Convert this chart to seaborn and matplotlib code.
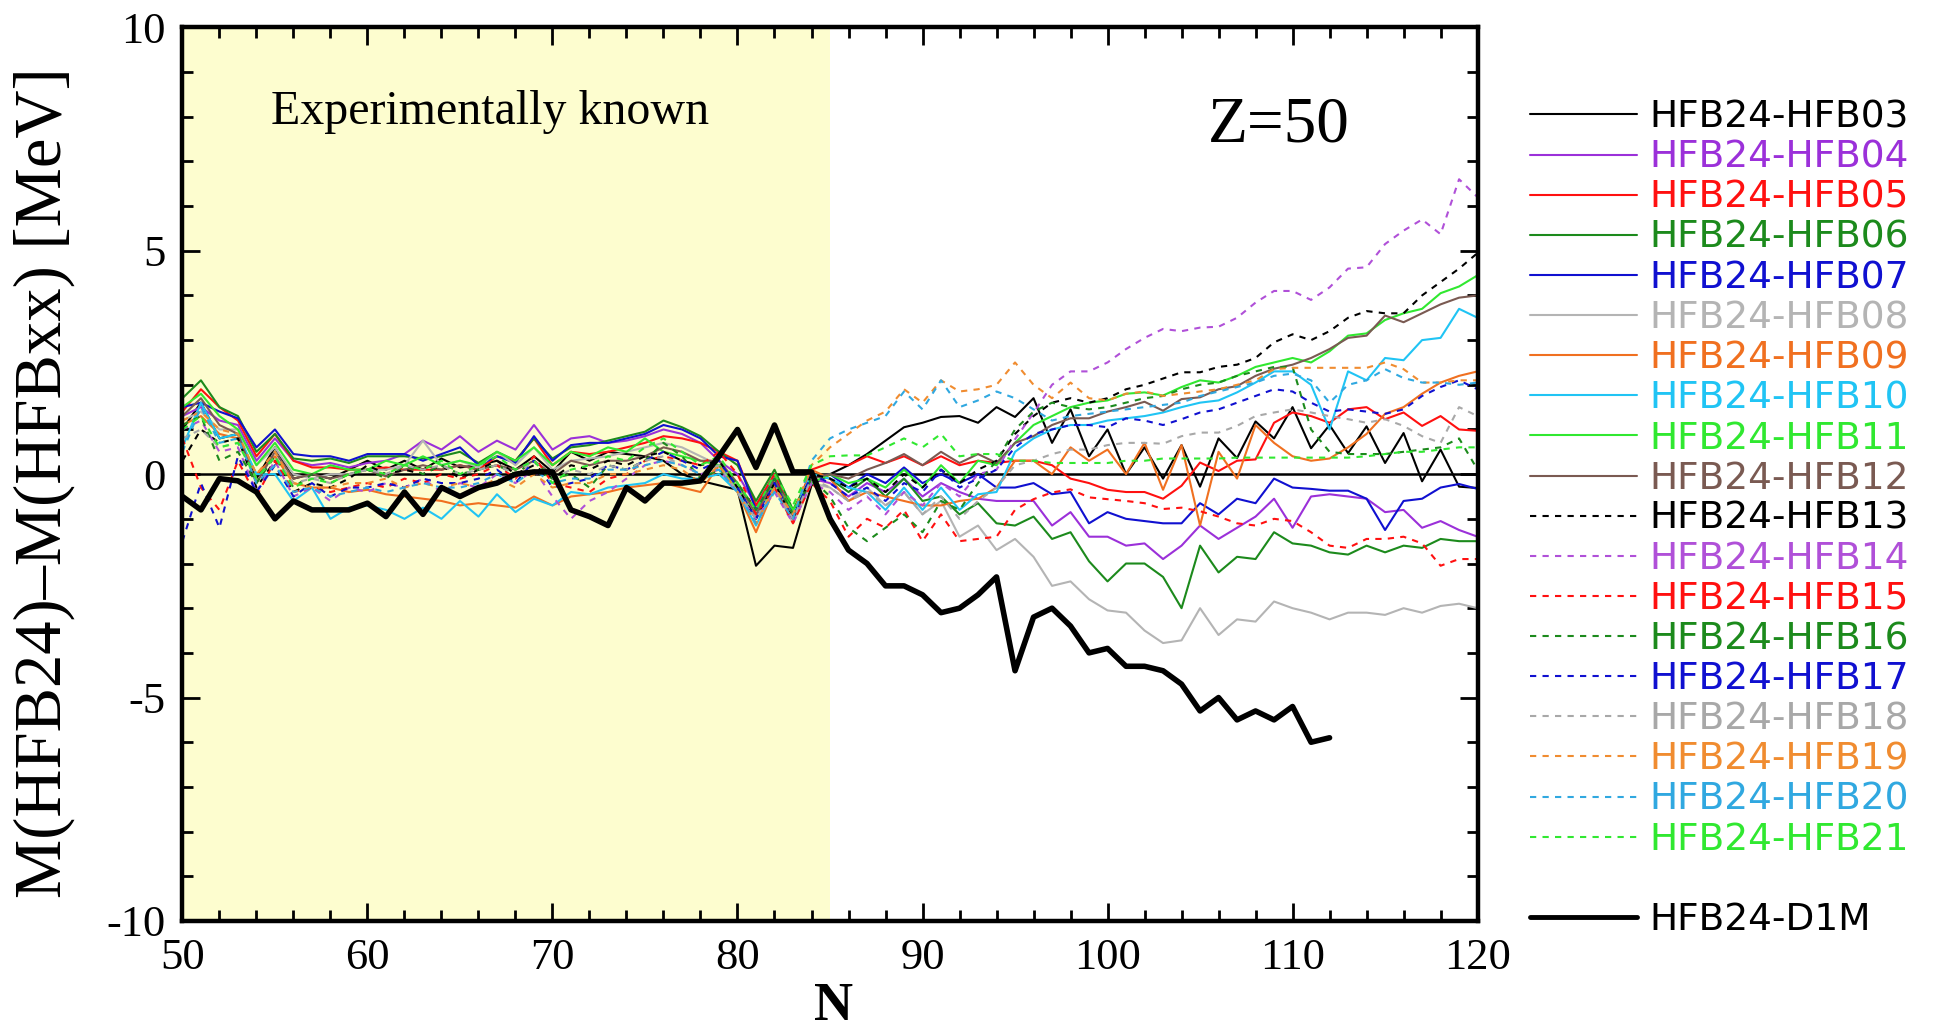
import matplotlib
matplotlib.use("Agg")
import matplotlib.pyplot as plt
import seaborn as sns
import pandas as pd
from matplotlib.lines import Line2D
from matplotlib.ticker import MultipleLocator

# ---------------- data ----------------
N = list(range(50, 121))
N_D1M = list(range(50, 113))

hfb03 = [1.0, 1.6, 0.8, 0.9, -0.1, 0.6, -0.1, 0.0, -0.1, 0.1, 0.3, 0.1, 0.3, 0.1, 0.35, 0.15, 0.2, 0.3, 0.1, 0.4,
         0.05, 0.5, 0.3, 0.5, 0.45, 0.4, 0.3, 0.0, -0.15, -0.25, -0.35, -2.05, -1.6, -1.65, -0.25] + \
        [0.0, 0.2, 0.45, 0.75, 1.05, 1.15, 1.28, 1.3, 1.15, 1.5, 1.28, 1.7, 0.7, 1.45, 0.4, 1.0, 0.0, 0.6,
         -0.1, 0.65, -0.28, 0.8, 0.36, 1.18, 0.8, 1.5, 0.58, 1.1, 0.47, 1.07, 0.25, 0.92, -0.16, 0.55, -0.28, -0.31]
hfb04 = [1.3, 1.5, 1.2, 1.1, 0.3, 0.8, 0.3, 0.2, 0.25, 0.15, 0.25, 0.3, 0.45, 0.75, 0.55, 0.85, 0.5, 0.75, 0.55, 1.1,
         0.55, 0.8, 0.85, 0.7, 0.75, 0.85, 1.0, 0.9, 0.7, 0.3, 0.0, -0.7, 0.0, -1.0, -0.1] + \
        [-0.2, -0.5, -0.2, -0.4, -0.1, -0.5, -0.2, -0.4, -0.55, -0.6, -0.6, -0.6, -1.15, -0.85, -1.4, -1.4, -1.6, -1.55,
         -1.9, -1.6, -1.15, -1.45, -1.2, -0.95, -0.55, -1.2, -0.5, -0.45, -0.5, -0.55, -0.85, -0.8, -1.2, -1.05, -1.25, -1.4]
hfb05 = [1.4, 1.9, 1.5, 1.2, 0.4, 0.9, 0.3, 0.15, 0.15, 0.1, 0.1, 0.15, 0.1, 0.1, 0.1, 0.2, 0.1, 0.4, 0.3, 0.8,
         0.2, 0.5, 0.45, 0.5, 0.6, 0.7, 0.85, 0.8, 0.7, 0.5, 0.3, -0.7, 0.0, -0.9, 0.1] + \
        [0.25, 0.2, 0.4, 0.25, 0.4, 0.2, 0.4, 0.2, 0.3, 0.25, 0.3, 0.3, 0.2, -0.1, -0.2, -0.35, -0.4, -0.4,
         -0.55, -0.26, 0.26, 0.07, 0.3, 0.33, 1.15, 1.38, 1.3, 1.15, 1.45, 1.5, 1.23, 1.38, 1.08, 1.3, 1.0, 0.97]
hfb06 = [1.7, 2.1, 1.5, 1.3, 0.5, 0.9, 0.35, 0.3, 0.35, 0.25, 0.4, 0.4, 0.4, 0.35, 0.4, 0.5, 0.25, 0.5, 0.3, 0.8,
         0.35, 0.6, 0.65, 0.75, 0.85, 0.95, 1.2, 1.05, 0.85, 0.5, 0.2, -0.6, 0.1, -0.8, 0.0] + \
        [-0.1, -0.4, -0.1, -0.5, -0.1, -0.6, -0.5, -0.9, -0.65, -1.1, -1.15, -0.95, -1.45, -1.3, -1.95, -2.4, -2.0, -2.0,
         -2.3, -3.0, -1.6, -2.2, -1.85, -1.9, -1.3, -1.55, -1.6, -1.75, -1.8, -1.6, -1.75, -1.6, -1.65, -1.45, -1.5, -1.5]
hfb07 = [1.5, 1.6, 1.4, 1.25, 0.6, 1.0, 0.45, 0.4, 0.4, 0.3, 0.45, 0.45, 0.45, 0.3, 0.45, 0.6, 0.2, 0.4, 0.25, 0.85,
         0.3, 0.65, 0.7, 0.7, 0.8, 0.9, 1.1, 1.0, 0.8, 0.4, 0.3, -0.8, -0.1, -0.9, -0.1] + \
        [0.0, -0.3, 0.0, -0.2, 0.15, -0.2, 0.0, -0.2, 0.0, -0.3, -0.3, -0.2, -0.45, -0.4, -1.1, -0.85, -1.0, -1.05,
         -1.1, -1.1, -0.65, -0.9, -0.55, -0.65, -0.1, -0.3, -0.33, -0.37, -0.37, -0.55, -1.25, -0.6, -0.55, -0.3, -0.22, -0.33]
hfb08 = [1.2, 1.4, 1.0, 1.0, 0.2, 0.6, 0.0, -0.1, 0.0, 0.0, 0.1, 0.1, 0.2, 0.75, 0.2, 0.3, 0.15, 0.5, 0.2, 0.6,
         0.1, 0.3, 0.35, 0.4, 0.5, 0.6, 0.7, 0.6, 0.4, 0.2, -0.3, -1.0, -0.3, -1.1, -0.2] + \
        [-0.3, -0.6, -0.3, -0.7, -0.4, -0.9, -0.6, -1.4, -1.15, -1.7, -1.45, -1.85, -2.5, -2.4, -2.8, -3.05, -3.1, -3.5,
         -3.78, -3.72, -3.0, -3.6, -3.25, -3.3, -2.85, -3.0, -3.1, -3.25, -3.1, -3.1, -3.15, -3.0, -3.1, -2.95, -2.9, -3.0]
hfb09 = [1.1, 1.3, 0.9, 0.8, 0.0, 0.4, -0.2, -0.3, -0.3, -0.4, -0.35, -0.45, -0.5, -0.55, -0.6, -0.7, -0.65, -0.7, -0.75, -0.5,
         -0.7, -0.5, -0.45, -0.4, -0.3, -0.25, -0.2, -0.3, -0.4, 0.2, -0.4, -1.3, -0.3, -1.0, 0.1] + \
        [-0.1, -0.6, -0.4, -0.5, -0.6, -0.7, -0.7, -0.6, -0.55, -0.3, 0.3, 0.3, 0.0, 0.6, 0.3, 0.55, 0.0, 0.7,
         -0.35, 0.65, -1.15, 0.5, -0.1, 1.1, 0.7, 0.4, 0.3, 0.35, 0.6, 0.9, 1.35, 1.5, 1.8, 2.05, 2.2, 2.3]
hfb10 = [0.6, 1.6, 0.8, 0.9, 0.0, 0.0, -0.6, -0.3, -1.0, -0.75, -0.7, -0.8, -1.0, -0.75, -1.0, -0.6, -0.95, -0.45, -0.85, -0.55,
         -0.7, -0.4, -0.45, -0.3, -0.25, -0.2, 0.0, -0.1, -0.1, 0.0, -0.4, -1.15, -0.3, -0.9, 0.0] + \
        [-0.1, -0.3, -0.4, -0.8, -0.3, -0.8, -0.3, -0.8, -0.45, -0.4, 0.5, 0.8, 1.0, 1.1, 1.1, 1.2, 1.25, 1.3,
         1.38, 1.5, 1.6, 1.65, 1.83, 2.05, 2.3, 2.3, 2.0, 1.0, 2.3, 2.1, 2.6, 2.55, 3.0, 3.05, 3.7, 3.5]
hfb11 = [1.5, 1.8, 1.3, 1.0, 0.2, 0.7, 0.1, 0.0, 0.2, 0.1, 0.1, 0.3, 0.2, 0.4, 0.2, 0.3, 0.2, 0.5, 0.3, 0.6,
         0.2, 0.5, 0.4, 0.6, 0.5, 0.8, 0.5, 0.4, 0.3, 0.2, -0.3, -1.0, -0.2, -0.8, -0.2] + \
        [0.0, -0.2, -0.1, -0.3, 0.1, -0.3, 0.2, -0.2, 0.3, 0.2, 0.7, 1.1, 1.3, 1.5, 1.6, 1.65, 1.8, 1.83,
         1.76, 1.95, 2.1, 2.05, 2.2, 2.4, 2.5, 2.6, 2.5, 2.75, 3.1, 3.15, 3.45, 3.6, 3.7, 4.05, 4.2, 4.45]
hfb12 = [1.3, 1.7, 1.1, 0.9, -0.2, 0.5, -0.1, 0.0, -0.1, 0.0, 0.1, -0.05, 0.1, 0.2, 0.1, 0.2, 0.1, 0.2, 0.1, 0.3,
         0.0, 0.3, 0.2, 0.3, 0.3, 0.4, 0.6, 0.5, 0.3, 0.3, -0.2, -0.9, -0.1, -1.0, -0.1] + \
        [0.0, -0.1, 0.1, 0.25, 0.45, 0.2, 0.5, 0.25, 0.45, 0.25, 0.7, 0.85, 1.1, 1.25, 1.25, 1.4, 1.5, 1.62,
         1.42, 1.68, 1.72, 1.9, 1.97, 2.2, 2.36, 2.45, 2.6, 2.8, 3.05, 3.1, 3.55, 3.4, 3.6, 3.8, 3.95, 4.0]
hfb13 = [0.3, 1.0, 0.7, 0.8, -0.3, 0.3, -0.4, -0.2, -0.3, -0.1, 0.2, 0.0, 0.1, 0.0, 0.2, -0.1, 0.1, 0.3, 0.0, 0.2,
         -0.1, 0.2, 0.1, 0.3, 0.2, 0.4, 0.5, 0.3, 0.2, 0.3, -0.3, -1.0, -0.2, -1.0, 0.0] + \
        [-0.1, -0.3, -0.1, -0.4, 0.0, -0.3, 0.1, -0.2, 0.1, 0.3, 0.9, 1.3, 1.6, 1.7, 1.6, 1.7, 1.9, 2.0,
         2.14, 2.28, 2.28, 2.4, 2.45, 2.6, 2.95, 3.13, 3.0, 3.2, 3.5, 3.65, 3.6, 3.6, 4.0, 4.3, 4.6, 4.95]
hfb14 = [1.0, 1.2, 0.5, 0.6, -0.4, 0.3, -0.5, -0.3, -0.6, -0.3, -0.4, -0.2, -0.3, -0.1, -0.4, -0.2, -0.3, 0.0, -0.2, 0.1,
         -0.5, -1.0, -0.6, -0.4, -0.1, 0.2, 0.3, 0.2, 0.0, 0.1, -0.4, -1.0, -0.4, -1.1, -0.2] + \
        [-0.4, -0.8, -0.5, -0.9, -0.4, -0.7, -0.2, -0.5, 0.0, 0.1, 0.78, 1.37, 2.0, 2.3, 2.3, 2.5, 2.8, 3.05,
         3.25, 3.2, 3.28, 3.3, 3.5, 3.84, 4.1, 4.1, 3.9, 4.18, 4.6, 4.63, 5.15, 5.45, 5.7, 5.37, 6.6, 6.2]
hfb15 = [0.8, -0.3, -0.8, 0.3, -0.5, 0.3, -0.4, -0.3, -0.4, -0.3, -0.2, -0.3, -0.1, -0.2, 0.0, -0.1, 0.0, 0.2, -0.1, 0.4,
         -0.2, -0.3, -0.4, -0.1, 0.0, 0.3, 0.4, 0.3, 0.2, 0.5, 0.0, -0.9, -0.3, -1.1, -0.2] + \
        [-0.6, -1.4, -1.0, -1.2, -0.8, -1.5, -0.9, -1.5, -1.45, -1.4, -0.8, -0.56, -0.41, -0.34, -0.52, -0.56, -0.6, -0.65,
         -0.78, -0.75, -0.83, -0.95, -1.1, -1.15, -1.0, -1.05, -1.3, -1.6, -1.65, -1.45, -1.45, -1.4, -1.55, -2.05, -1.9, -1.9]
hfb16 = [1.1, 1.3, 0.3, 0.5, -0.2, 0.4, -0.3, 0.0, -0.2, 0.0, 0.1, -0.1, 0.2, 0.0, 0.2, 0.0, 0.1, 0.2, 0.0, 0.3,
         -0.1, 0.0, -0.3, 0.2, 0.1, 0.3, 0.7, 0.4, -0.1, 0.1, -0.2, -0.8, -0.1, -0.9, -0.1] + \
        [-0.5, -1.2, -1.5, -1.2, -0.9, -1.3, -0.6, -0.8, -0.2, 0.3, 1.0, 1.4, 1.6, 1.5, 1.45, 1.5, 1.6, 1.7,
         1.75, 1.9, 2.0, 2.05, 2.2, 2.3, 2.4, 2.4, 1.0, 0.5, 0.45, 0.45, 0.45, 0.5, 0.55, 0.6, 0.8, 0.1]
hfb17 = [-1.5, -0.2, -1.2, 0.4, -0.4, 0.2, -0.5, -0.2, -0.5, -0.3, -0.3, -0.2, -0.3, -0.1, -0.2, -0.2, -0.1, 0.1, -0.2, 0.3,
         -0.3, -0.2, -0.1, 0.2, 0.1, 0.3, 0.5, 0.3, 0.1, 0.3, -0.3, -1.0, -0.2, -1.0, 0.0] + \
        [-0.2, -0.5, -0.3, -0.6, -0.2, -0.4, 0.1, -0.3, -0.1, 0.1, 0.6, 0.9, 1.0, 1.1, 1.1, 1.05, 1.25, 1.2,
         1.1, 1.23, 1.38, 1.45, 1.6, 1.75, 1.9, 1.85, 1.6, 1.4, 1.45, 1.4, 1.35, 1.45, 1.75, 1.95, 2.1, 1.9]
hfb18 = [0.8, 1.0, 0.6, 0.7, -0.1, 0.4, -0.2, -0.1, -0.2, 0.0, 0.1, 0.0, 0.2, 0.1, 0.2, 0.0, 0.1, 0.2, 0.0, 0.3,
         -0.1, 0.1, 0.0, 0.2, 0.1, 0.3, 0.4, 0.2, 0.0, 0.2, -0.4, -1.0, -0.3, -1.0, -0.1] + \
        [-0.3, -0.6, -0.4, -0.7, -0.4, -0.9, -0.5, -1.0, -0.6, -0.3, 0.2, 0.3, 0.45, 0.55, 0.55, 0.65, 0.7, 0.7,
         0.68, 0.85, 0.93, 0.93, 1.08, 1.3, 1.38, 1.45, 1.38, 1.3, 1.23, 1.15, 1.23, 1.08, 0.85, 0.7, 1.5, 1.3]
hfb19 = [1.2, 1.4, 1.0, 0.9, 0.0, 0.5, -0.2, -0.3, -0.3, -0.2, -0.2, -0.1, -0.3, -0.2, -0.3, -0.2, -0.3, -0.1, -0.3, 0.0,
         -0.3, -0.2, -0.2, 0.0, 0.0, 0.1, 0.2, 0.1, -0.2, 0.2, -0.4, -1.1, -0.3, -0.9, 0.2] + \
        [0.6, 0.9, 1.2, 1.4, 1.9, 1.6, 2.1, 1.85, 1.9, 2.0, 2.5, 2.0, 1.7, 2.05, 1.7, 1.65, 1.8, 1.85,
         1.75, 1.8, 1.85, 1.9, 2.0, 2.1, 2.35, 2.38, 2.38, 2.38, 2.38, 2.38, 2.5, 2.35, 2.05, 2.05, 2.1, 2.1]
hfb20 = [0.5, 1.5, 0.7, 0.8, -0.2, 0.2, -0.4, -0.3, -0.5, -0.4, -0.3, -0.4, -0.3, -0.2, -0.3, -0.3, -0.2, 0.0, -0.2, 0.1,
         -0.2, -0.1, -0.1, 0.1, 0.1, 0.2, 0.3, 0.2, 0.0, 0.1, -0.4, -1.1, -0.4, -1.0, 0.3] + \
        [0.8, 1.0, 1.15, 1.3, 1.85, 1.45, 2.1, 1.5, 1.65, 1.85, 1.7, 1.45, 1.2, 1.3, 1.35, 1.4, 1.45, 1.5,
         1.55, 1.6, 1.75, 1.85, 1.95, 2.05, 2.2, 2.25, 2.1, 1.6, 2.0, 2.1, 2.35, 2.15, 2.05, 2.05, 2.0, 2.05]
hfb21 = [1.0, 1.3, 0.6, 0.7, -0.1, 0.4, -0.3, -0.1, -0.2, 0.0, 0.1, 0.0, 0.2, 0.1, 0.3, 0.0, 0.2, 0.4, 0.1, 0.3,
         -0.2, 0.1, 0.2, 0.4, 0.3, 0.6, 0.8, 0.5, 0.2, 0.4, -0.2, -0.8, 0.0, -0.7, 0.2] + \
        [0.4, 0.42, 0.42, 0.6, 0.8, 0.6, 0.9, 0.4, 0.45, 0.45, 0.3, 0.3, 0.25, 0.25, 0.25, 0.25, 0.3, 0.3,
         0.35, 0.35, 0.35, 0.35, 0.37, 0.37, 0.37, 0.37, 0.37, 0.37, 0.37, 0.4, 0.45, 0.5, 0.5, 0.55, 0.6, 0.6]
d1m = [-0.5, -0.8, -0.1, -0.15, -0.4, -1.0, -0.6, -0.8, -0.8, -0.8, -0.65, -0.95, -0.4, -0.9, -0.3, -0.5, -0.3, -0.2, 0.0, 0.05,
       0.05, -0.8, -0.95, -1.15, -0.3, -0.6, -0.2, -0.2, -0.15, 0.4, 1.0, 0.15, 1.1, 0.05, 0.05,
       -1.0, -1.7, -2.0, -2.5, -2.5, -2.7, -3.1, -3.0, -2.7, -2.3, -4.4, -3.2, -3.0, -3.4, -4.0, -3.9, -4.3, -4.3,
       -4.4, -4.7, -5.3, -5.0, -5.5, -5.3, -5.5, -5.2, -6.0, -5.9]

labels = ["HFB24-HFB03", "HFB24-HFB04", "HFB24-HFB05", "HFB24-HFB06", "HFB24-HFB07", "HFB24-HFB08",
          "HFB24-HFB09", "HFB24-HFB10", "HFB24-HFB11", "HFB24-HFB12", "HFB24-HFB13", "HFB24-HFB14",
          "HFB24-HFB15", "HFB24-HFB16", "HFB24-HFB17", "HFB24-HFB18", "HFB24-HFB19", "HFB24-HFB20",
          "HFB24-HFB21"]
series = [hfb03, hfb04, hfb05, hfb06, hfb07, hfb08, hfb09, hfb10, hfb11, hfb12,
          hfb13, hfb14, hfb15, hfb16, hfb17, hfb18, hfb19, hfb20, hfb21]
colors = ["#000000", "#9b30d9", "#ff1010", "#1c8a1c", "#1010d0", "#b4b4b4", "#f07020", "#20c4f4", "#30e830",
          "#7a5a52", "#000000", "#b050d8", "#ff1010", "#1c8a1c", "#1010d0", "#a8a8a8", "#f08c30", "#30a8e0",
          "#30e830"]
dashed = [False] * 10 + [True] * 9

# ---------------- figure ----------------
sns.set_theme(style="ticks")
plt.rcParams['font.family'] = ['Liberation Serif', 'DejaVu Serif']
plt.rcParams['axes.unicode_minus'] = False

fig = plt.figure(figsize=(19.47, 10.32), dpi=100)
ax = fig.add_axes([0.0937, 0.1076, 0.6652, 0.8659])

ax.axvspan(50, 85, color="#fdfdcf", lw=0, zorder=0)
ax.axhline(0, color="black", lw=1.8, zorder=1)

rows = []
for lab, vals in zip(labels, series):
    for n, v in zip(N, vals):
        rows.append((n, v, lab))
df = pd.DataFrame(rows, columns=["N", "dM", "model"])

dash_map = {l: ((3, 3) if d else "") for l, d in zip(labels, dashed)}
sns.lineplot(data=df, x="N", y="dM", hue="model", style="model",
             hue_order=labels, style_order=labels,
             palette=dict(zip(labels, colors)), dashes=dash_map,
             estimator=None, lw=1.5, legend=False, ax=ax, zorder=2)

sns.lineplot(x=N_D1M, y=d1m, color="black", lw=4.0, ax=ax, zorder=3)

ax.set_xlim(50, 120)
ax.set_ylim(-10, 10)
ax.xaxis.set_major_locator(MultipleLocator(10))
ax.xaxis.set_minor_locator(MultipleLocator(2))
ax.yaxis.set_major_locator(MultipleLocator(5))
ax.yaxis.set_minor_locator(MultipleLocator(1))
ax.tick_params(which="both", direction="in", top=True, right=True, width=2, colors="black")
ax.tick_params(which="major", length=13, labelsize=32, pad=12)
ax.tick_params(which="minor", length=8)
for sp in ax.spines.values():
    sp.set_linewidth(3.2)
    sp.set_color("black")

ax.set_xlabel("N", fontsize=39, fontweight="bold", color="black")
ax.xaxis.set_label_coords(0.503, -0.068)
ax.set_ylabel("M(HFB24)–M(HFBxx) [MeV]", fontsize=48, color="black")
ax.yaxis.set_label_coords(-0.083, 0.49)

ax.text(54.8, 8.1, "Experimentally known", fontsize=34.5, va="center", ha="left", color="black")
ax.text(105.4, 7.8, "Z=50", fontsize=47, va="center", ha="left", color="black")

handles = [Line2D([], [], color=c, lw=1.5, linestyle=((0, (3, 3)) if d else "-"))
           for c, d in zip(colors, dashed)]
handles.append(Line2D([], [], color="none", lw=0))
handles.append(Line2D([], [], color="black", lw=3.5))
leg_labels = labels + [" ", "HFB24-D1M"]
leg = ax.legend(handles, leg_labels, loc="upper left", bbox_to_anchor=(0.786, 0.9035),
                bbox_transform=fig.transFigure, frameon=False,
                prop={"family": "DejaVu Sans", "size": 27},
                handlelength=2.85, handletextpad=0.33, labelspacing=0.11,
                borderpad=0, borderaxespad=0)
for t, c in zip(leg.get_texts(), colors + ["white", "black"]):
    t.set_color(c)

fig.savefig("out.png", dpi=100)
